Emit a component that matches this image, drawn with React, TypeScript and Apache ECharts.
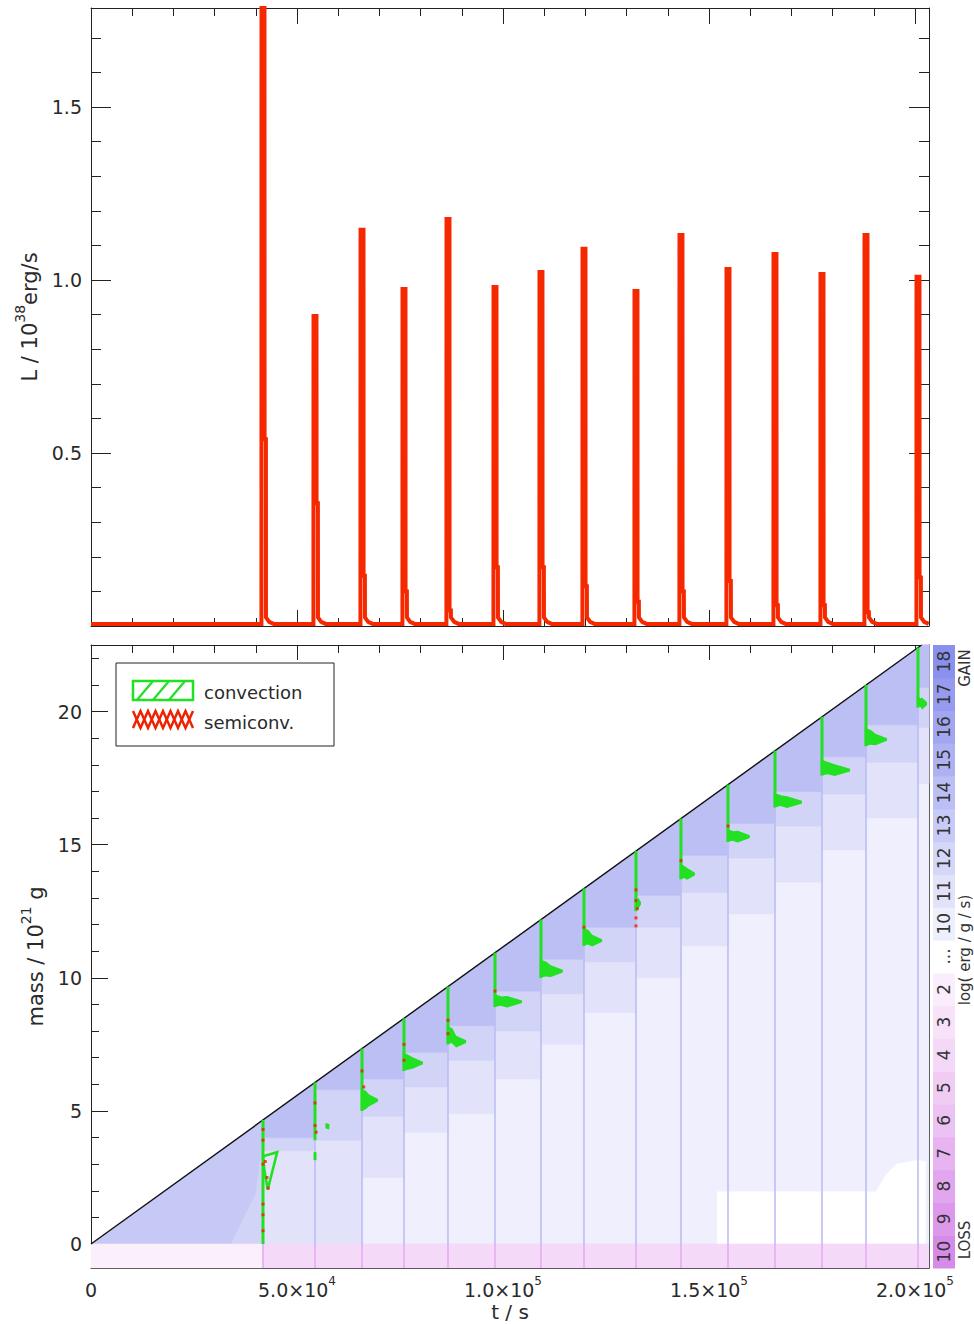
import React, { useEffect, useRef } from "react";
import * as echarts from "echarts";

// ---------------- values ----------------
const T_MAX = 203400; // s, right edge of both panels
const L_MAX = 1.786; // top of light-curve panel (10^38 erg/s)
const M_MIN = -0.9; // bottom of mass panel (10^21 g)
const M_MAX = 22.5;
const accretedLine = [
  [0, 0],
  [201600, 22.5],
]; // accreted mass (diagonal)

const burstTime = [41750, 54370, 65780, 75970, 86650, 98060, 109220, 119660, 132280, 143200, 154610, 166020, 177430, 188110, 200730];
const burstPeak = [1.9, 0.896, 1.145, 0.974, 1.176, 0.98, 1.023, 1.09, 0.968, 1.13, 1.032, 1.075, 1.017, 1.13, 1.009];
const burstShoulder = [0.54, 0.355, 0.145, 0.1, 0.045, 0.17, 0.17, 0.115, 0.07, 0.1, 0.13, 0.06, 0.06, 0.04, 0.14];
const baseLum = 0.006;

// energy generation bands below the surface, per inter-burst interval
const bandDark = [4.0, 5.8, 6.2, 7.2, 8.2, 9.5, 10.7, 11.9, 13.1, 14.6, 15.8, 17.0, 18.3, 19.5, 20.9];
const bandMid = [3.5, 3.9, 4.8, 5.9, 6.9, 8.0, 9.4, 10.6, 11.9, 13.2, 14.5, 15.7, 16.9, 18.1, 19.4];
const bandLight = [0, 0, 2.5, 4.2, 4.9, 6.2, 7.5, 8.7, 10.0, 11.2, 12.4, 13.6, 14.8, 16.0, 17.3];
const preBurstWedge = [
  [34000, 0],
  [41750, 0],
  [41750, 3.9],
  [40000, 1.9],
];
const whitePatch = [
  [152000, 0],
  [152000, 1.96],
  [190500, 1.96],
  [193000, 2.6],
  [195500, 3.0],
  [200500, 3.15],
  [202500, 3.1],
  [202500, 0],
];

// convection zones
const convBottom = [0, 3.9, 5.0, 6.5, 7.5, 8.9, 10.0, 11.2, 12.5, 13.7, 15.1, 16.4, 17.6, 18.7, 20.15];
const flagTop = [0, 0, 5.85, 7.2, 8.2, 9.4, 10.7, 11.9, 13.0, 14.3, 15.6, 16.95, 18.2, 19.4, 20.6];
const flagTipDt = [0, 0, 3900, 4600, 4400, 6550, 5300, 4400, 1200, 3400, 5300, 6550, 6800, 5100, 2200];
const flagTipM = [0, 0, 5.4, 6.8, 7.6, 9.1, 10.25, 11.4, 12.8, 13.9, 15.3, 16.6, 17.8, 18.95, 20.3];
const convOutline = [
  [
    [41750, 3.3],
    [45200, 3.45],
    [42900, 2.05],
    [42100, 2.75],
  ],
];
const convDash = [
  [
    [54370, 3.45],
    [54370, 3.15],
  ],
];
const convBlob = [
  [
    [56900, 4.55],
    [57900, 4.5],
    [57800, 4.3],
    [56900, 4.35],
  ],
];
const semiconvDots = [
  [41750, 4.3], [41750, 3.9], [41750, 3.0], [42300, 3.1], [42700, 2.5], [43000, 2.1], [41750, 1.5], [41750, 1.1], [41750, 0.5],
  [54370, 5.3], [54370, 4.45], [54650, 4.2], [65780, 6.5], [66200, 5.9], [75970, 7.5], [75970, 6.9], [86650, 8.4], [86650, 7.9],
  [98060, 9.5], [119660, 11.9], [132280, 13.3], [132280, 12.9], [132600, 12.6], [132280, 12.25], [132280, 11.95], [143200, 14.4], [154610, 15.7],
];

// axis ticks and labels
const xMajorTicks = [0, 50000, 100000, 150000, 200000];
const xTickText = [["0", ""], ["5.0×10", "4"], ["1.0×10", "5"], ["1.5×10", "5"], ["2.0×10", "5"]];
const xMinorTicks = [10000, 20000, 30000, 40000, 60000, 70000, 80000, 90000, 110000, 120000, 130000, 140000, 160000, 170000, 180000, 190000];
const lMajorTicks = [0.5, 1.0, 1.5];
const lMinorTicks = [0.1, 0.2, 0.3, 0.4, 0.6, 0.7, 0.8, 0.9, 1.1, 1.2, 1.3, 1.4, 1.6, 1.7];
const mMajorTicks = [0, 5, 10, 15, 20];
const mMinorTicks = [1, 2, 3, 4, 6, 7, 8, 9, 11, 12, 13, 14, 16, 17, 18, 19, 21, 22];

const colorbarLabels = ["10", "9", "8", "7", "6", "5", "4", "3", "2", "...", "10", "11", "12", "13", "14", "15", "16", "17", "18"];
const colorbarColors = [
  "#d78be9", "#dc98eb", "#e2a6ee", "#e7b4f1", "#ecc1f3", "#f0ccf5", "#f4d8f7", "#f7e2f9", "#fbeefc", "#ffffff",
  "#eeeffd", "#e2e3fb", "#d5d7f9", "#c8cbf7", "#bbbff5", "#aeb2f3", "#a2a6f1", "#969bef", "#8a90ed",
];

// ---------------- styling ----------------
const FONT = "DejaVu Sans";
const TXT = "#2a2a2a";
const RED = "#f52800";
const GREEN = "#22e022";
const C_PRE = "#c6c9f5";
const C_DARK = "#bcbff3";
const C_MID = "#d1d3f7";
const C_LIGHT = "#e2e3fa";
const C_VLIGHT = "#efeffd";
const C_PINK = "#f5d9f8";
const C_PINK_PRE = "#fbeffc";

const tTop = accretedLine[1][0];
const diag = (t: number) => Math.min(M_MAX, (t * accretedLine[1][1]) / tTop);

function upperEdge(ta: number, tb: number): number[][] {
  if (tb <= tTop) return [[tb, diag(tb)], [ta, diag(ta)]];
  if (ta >= tTop) return [[tb, M_MAX], [ta, M_MAX]];
  return [[tb, M_MAX], [tTop, M_MAX], [ta, diag(ta)]];
}

type Fill = { pts: number[][]; color: string };

function buildFills(): Fill[] {
  const fills: Fill[] = [];
  const t1 = burstTime[0];
  fills.push({ pts: [[t1, 0], [T_MAX, 0], ...upperEdge(t1, T_MAX)], color: C_VLIGHT });
  fills.push({ pts: [[0, 0], [t1, 0], [t1, diag(t1)]], color: C_PRE });
  fills.push({ pts: preBurstWedge, color: "#d2d4f7" });
  for (let k = 0; k < burstTime.length; k++) {
    const ta = burstTime[k];
    const tb = k < burstTime.length - 1 ? burstTime[k + 1] : T_MAX;
    const up = upperEdge(ta, tb);
    fills.push({ pts: [[ta, bandLight[k]], [tb, bandLight[k]], ...up], color: C_LIGHT });
    fills.push({ pts: [[ta, bandMid[k]], [tb, bandMid[k]], ...up], color: C_MID });
    fills.push({ pts: [[ta, bandDark[k]], [tb, bandDark[k]], ...up], color: C_DARK });
  }
  fills.push({ pts: whitePatch, color: "#ffffff" });
  fills.push({ pts: [[0, M_MIN], [t1, M_MIN], [t1, 0], [0, 0]], color: C_PINK_PRE });
  fills.push({ pts: [[t1, M_MIN], [T_MAX, M_MIN], [T_MAX, 0], [t1, 0]], color: C_PINK });
  return fills;
}

function buildLightCurve(): number[][] {
  const pts: number[][] = [[0, baseLum]];
  burstTime.forEach((t, i) => {
    const p = burstPeak[i];
    const s = burstShoulder[i];
    const prof = [
      [t - 380, baseLum],
      [t - 360, p],
      [t + 360, p],
      [t + 380, s],
      [t + 700, s],
      [t + 720, 0.025],
      [t + 1500, 0.012],
      [t + 2600, baseLum],
    ];
    prof.forEach((q) => {
      if (q[0] < T_MAX) pts.push(q);
    });
  });
  pts.push([T_MAX, baseLum]);
  return pts;
}

const lineStyle = { color: "#222", width: 1 };

function xAxis(grid: number, pos: string, ticks: number[], len: number, extra: any = {}) {
  return {
    type: "value",
    gridIndex: grid,
    position: pos,
    min: 0,
    max: T_MAX,
    axisLine: { show: true, onZero: false, lineStyle },
    axisTick: { show: true, inside: true, length: len, customValues: ticks, lineStyle },
    axisLabel: { show: false },
    splitLine: { show: false },
    ...extra,
  };
}

function yAxis(grid: number, pos: string, min: number, max: number, ticks: number[], len: number, extra: any = {}) {
  return {
    type: "value",
    gridIndex: grid,
    position: pos,
    min,
    max,
    axisLine: { show: true, onZero: false, lineStyle },
    axisTick: { show: true, inside: true, length: len, customValues: ticks, lineStyle },
    axisLabel: { show: false },
    splitLine: { show: false },
    ...extra,
  };
}

const hidden = { axisLine: { show: false, onZero: false } };

function buildOption(): any {
  const fills = buildFills();
  const lc = buildLightCurve();
  const labelBase = { fontFamily: FONT, fontSize: 19, color: TXT };

  const xLabel = {
    show: true,
    customValues: xMajorTicks,
    margin: 7,
    formatter: (v: number) => {
      const i = xMajorTicks.indexOf(v);
      if (i < 0) return "";
      const [m, e] = xTickText[i];
      return e ? `{m|${m}}{e|${e}}` : `{m|${m}}`;
    },
    rich: {
      m: { ...labelBase, lineHeight: 24, verticalAlign: "bottom" },
      e: { fontFamily: FONT, fontSize: 12, color: TXT, lineHeight: 13, verticalAlign: "top" },
    },
  };

  const nameRich = {
    a: { fontFamily: FONT, fontSize: 21, color: TXT, lineHeight: 28, verticalAlign: "bottom" },
    s: { fontFamily: FONT, fontSize: 14, color: TXT, lineHeight: 14, verticalAlign: "top" },
  };

  const xAxes = [
    xAxis(0, "bottom", xMajorTicks, 16),
    xAxis(0, "bottom", xMinorTicks, 8, hidden),
    xAxis(0, "top", xMajorTicks, 16),
    xAxis(0, "top", xMinorTicks, 8, hidden),
    xAxis(1, "bottom", xMajorTicks, 15, {
      axisLabel: xLabel,
      name: "t / s",
      nameLocation: "middle",
      nameGap: 34,
      nameTextStyle: { fontFamily: FONT, fontSize: 20, color: TXT },
    }),
    xAxis(1, "bottom", xMinorTicks, 8, hidden),
    xAxis(1, "top", xMajorTicks, 15),
    xAxis(1, "top", xMinorTicks, 8, hidden),
    { type: "value", gridIndex: 2, min: 0, max: 1, show: false },
  ];

  const yAxes = [
    yAxis(0, "left", 0, L_MAX, lMajorTicks, 20, {
      axisLabel: {
        show: true,
        customValues: lMajorTicks,
        margin: 9,
        formatter: (v: number) => v.toFixed(1),
        ...labelBase,
      },
      name: "{a|L / 10}{s|38}{a|erg/s}",
      nameLocation: "middle",
      nameGap: 47,
      nameTextStyle: { rich: nameRich },
    }),
    yAxis(0, "left", 0, L_MAX, lMinorTicks, 10, hidden),
    yAxis(0, "right", 0, L_MAX, lMajorTicks, 20),
    yAxis(0, "right", 0, L_MAX, lMinorTicks, 10, hidden),
    yAxis(1, "left", M_MIN, M_MAX, mMajorTicks, 17, {
      axisLabel: {
        show: true,
        customValues: mMajorTicks,
        margin: 9,
        formatter: (v: number) => String(v),
        ...labelBase,
      },
      name: "{a|mass / 10}{s|21}{a| g}",
      nameLocation: "middle",
      nameGap: 42,
      nameTextStyle: { rich: nameRich },
    }),
    yAxis(1, "left", M_MIN, M_MAX, mMinorTicks, 8, hidden),
    yAxis(1, "right", M_MIN, M_MAX, mMajorTicks, 17),
    yAxis(1, "right", M_MIN, M_MAX, mMinorTicks, 8, hidden),
    { type: "category", gridIndex: 2, data: colorbarLabels, show: false },
  ];

  const series: any[] = [
    {
      name: "luminosity",
      type: "line",
      xAxisIndex: 0,
      yAxisIndex: 0,
      data: lc,
      symbol: "none",
      clip: true,
      lineStyle: { color: RED, width: 4, join: "miter" },
      z: 3,
    },
    {
      name: "fills",
      type: "custom",
      xAxisIndex: 4,
      yAxisIndex: 4,
      silent: true,
      z: 1,
      data: fills.map((f, i) => [f.pts[0][0], f.pts[0][1], i]),
      renderItem: (params: any, api: any) => {
        const f = fills[params.dataIndex];
        return {
          type: "polygon",
          shape: { points: f.pts.map((p) => api.coord(p)) },
          style: { fill: f.color, stroke: f.color, lineWidth: 0.6 },
        };
      },
    },
    {
      name: "burstLines",
      type: "custom",
      xAxisIndex: 4,
      yAxisIndex: 4,
      silent: true,
      z: 2,
      data: burstTime.map((t) => [t, 0]),
      renderItem: (params: any, api: any) => {
        const t = burstTime[params.dataIndex];
        const a = api.coord([t, diag(t)]);
        const b = api.coord([t, 0]);
        const c = api.coord([t, M_MIN]);
        return {
          type: "group",
          children: [
            { type: "line", shape: { x1: a[0], y1: a[1], x2: b[0], y2: b[1] }, style: { stroke: "#b8bbf2", lineWidth: 1.5 } },
            { type: "line", shape: { x1: b[0], y1: b[1], x2: c[0], y2: c[1] }, style: { stroke: "#e4aaef", lineWidth: 1.5 } },
          ],
        };
      },
    },
    {
      name: "surface",
      type: "line",
      xAxisIndex: 4,
      yAxisIndex: 4,
      data: accretedLine,
      symbol: "none",
      lineStyle: { color: "#111", width: 1.4 },
      z: 4,
    },
    {
      name: "convection",
      type: "custom",
      xAxisIndex: 4,
      yAxisIndex: 4,
      silent: true,
      z: 5,
      data: burstTime.map((t, i) => [t, convBottom[i]]),
      renderItem: (params: any, api: any) => {
        const i = params.dataIndex;
        const t = burstTime[i];
        const a = api.coord([t, diag(t)]);
        const b = api.coord([t, convBottom[i]]);
        const children: any[] = [
          { type: "line", shape: { x1: a[0], y1: a[1], x2: b[0], y2: b[1] }, style: { stroke: GREEN, lineWidth: 3 } },
        ];
        const dt = flagTipDt[i];
        if (dt > 0) {
          const top = flagTop[i];
          const bot = convBottom[i];
          const tip = flagTipM[i];
          const pts = [
            [t - 300, top],
            [t + 0.25 * dt, top - 0.1],
            [t + 0.45 * dt, tip + 0.22],
            [t + dt, tip + 0.05],
            [t + dt, tip - 0.05],
            [t + 0.45 * dt, tip - 0.22],
            [t + 0.2 * dt, bot + 0.05],
            [t - 300, bot],
          ].map((p) => api.coord(p));
          children.push({ type: "polygon", shape: { points: pts }, style: { fill: GREEN } });
        }
        return { type: "group", children };
      },
    },
    {
      name: "convExtras",
      type: "custom",
      xAxisIndex: 4,
      yAxisIndex: 4,
      silent: true,
      z: 5,
      data: [[0, 0]],
      renderItem: (params: any, api: any) => {
        const children: any[] = [];
        convOutline.forEach((pl) =>
          children.push({
            type: "polygon",
            shape: { points: pl.map((p) => api.coord(p)) },
            style: { fill: "none", stroke: GREEN, lineWidth: 2.6 },
          })
        );
        convDash.forEach((pl) =>
          children.push({
            type: "polyline",
            shape: { points: pl.map((p) => api.coord(p)) },
            style: { fill: "none", stroke: GREEN, lineWidth: 3 },
          })
        );
        convBlob.forEach((pl) =>
          children.push({ type: "polygon", shape: { points: pl.map((p) => api.coord(p)) }, style: { fill: GREEN } })
        );
        return { type: "group", children };
      },
    },
    {
      name: "semiconvection",
      type: "scatter",
      xAxisIndex: 4,
      yAxisIndex: 4,
      data: semiconvDots,
      symbol: "rect",
      symbolSize: 3,
      itemStyle: { color: "#ee2200" },
      z: 6,
      silent: true,
    },
    {
      name: "colorbar",
      type: "custom",
      xAxisIndex: 8,
      yAxisIndex: 8,
      silent: true,
      data: colorbarLabels.map((_, i) => [0.5, i]),
      renderItem: (params: any, api: any) => {
        const i = params.dataIndex;
        const c = api.coord([0.5, i]);
        const s = api.size([1, 1]);
        return {
          type: "group",
          children: [
            {
              type: "rect",
              shape: { x: c[0] - s[0] / 2, y: c[1] - s[1] / 2, width: s[0], height: s[1] + 0.5 },
              style: { fill: colorbarColors[i] },
            },
            {
              type: "text",
              x: c[0],
              y: c[1],
              rotation: Math.PI / 2,
              style: { text: colorbarLabels[i], fill: "#333", font: `17px "${FONT}"`, align: "center", verticalAlign: "middle" },
            },
          ],
        };
      },
    },
  ];

  const zz = 100;
  const hatch = [137, 153, 169].map((x0) => ({
    type: "line",
    z: zz + 1,
    shape: { x1: x0, y1: 700, x2: x0 + 16, y2: 681 },
    style: { stroke: GREEN, lineWidth: 2.3 },
  }));
  const zig1: number[][] = [];
  const zig2: number[][] = [];
  for (let j = 0; j <= 8; j++) {
    const x = 133 + j * 7.5;
    zig1.push([x, j % 2 === 0 ? 711 : 728]);
    zig2.push([x, j % 2 === 0 ? 728 : 711]);
  }
  const rotText = (text: string, x: number, y: number) => ({
    type: "text",
    z: zz,
    x,
    y,
    rotation: Math.PI / 2,
    style: { text, fill: "#333", font: `15px "${FONT}"`, align: "center", verticalAlign: "middle" },
  });

  return {
    animation: false,
    backgroundColor: "#ffffff",
    grid: [
      { left: 91, top: 8, width: 838, height: 618 },
      { left: 91, top: 645, width: 838, height: 623 },
      { left: 933, top: 645, width: 22, height: 623 },
    ],
    xAxis: xAxes,
    yAxis: yAxes,
    series,
    graphic: [
      { type: "rect", z: zz, shape: { x: 116, y: 663, width: 218, height: 83 }, style: { fill: "#fff", stroke: "#222", lineWidth: 1 } },
      { type: "rect", z: zz + 1, shape: { x: 133, y: 681, width: 60, height: 19 }, style: { fill: "none", stroke: GREEN, lineWidth: 2.5 } },
      ...hatch,
      { type: "polyline", z: zz + 1, shape: { points: zig1 }, style: { fill: "none", stroke: "#ee2200", lineWidth: 2.5 } },
      { type: "polyline", z: zz + 1, shape: { points: zig2 }, style: { fill: "none", stroke: "#ee2200", lineWidth: 2.5 } },
      { type: "text", z: zz + 1, x: 204, y: 692, style: { text: "convection", fill: TXT, font: `18px "${FONT}"`, verticalAlign: "middle" } },
      { type: "text", z: zz + 1, x: 204, y: 722, style: { text: "semiconv.", fill: TXT, font: `18px "${FONT}"`, verticalAlign: "middle" } },
      rotText("GAIN", 964.5, 668),
      rotText("log( erg / g / s)", 964.5, 950),
      rotText("LOSS", 964.5, 1240),
    ],
  };
}

export default function App() {
  const ref = useRef<HTMLDivElement>(null);
  useEffect(() => {
    document.body.style.margin = "0";
    const chart = echarts.init(ref.current as HTMLDivElement, null, { renderer: "svg" });
    chart.setOption(buildOption());
    return () => chart.dispose();
  }, []);
  return <div ref={ref} style={{ width: 974, height: 1324 }} />;
}
